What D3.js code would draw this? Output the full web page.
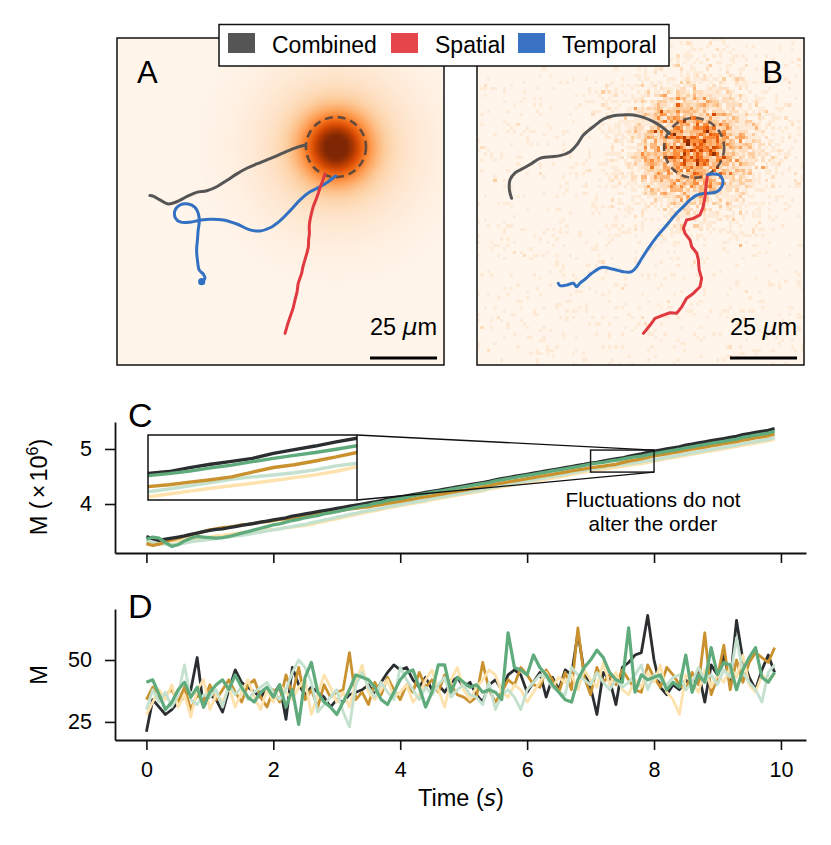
<!DOCTYPE html>
<html><head><meta charset="utf-8">
<script src="https://cdn.jsdelivr.net/npm/d3@7"></script>
<style>
body{margin:0;background:#fff}
svg{display:block}
text{font-family:"Liberation Sans",Arial,Helvetica,sans-serif;fill:#000}
</style>
</head><body>
<svg id="fig" width="831" height="845"></svg>
<script>
// ---------------- DATA ----------------
// Panels A/B: trajectories in micrometres (x right, y down) inside a 122 um field
const fieldSize = 122;
const scaleBarUm = 25;
const sourceA = [81.7, 40.7];   // centre of source in A (um)
const sourceB = [81.0, 41.0];   // centre of source in B (um)
const sourceRadius = 11.2;      // dashed circle radius (um)
const coreSigma = 8.0;          // narrow component of field A (um)
const haloSigma = 20.0;         // broad component of field A (um)
const sigmaB = 13.0;            // spread of noisy field B (um)

const aCombined = [[12.3,58.8],[13.5,59.0],[16.0,60.4],[19.1,61.9],[22.3,61.1],[26.0,59.2],[29.7,57.6],[33.5,57.0],[37.2,55.5],[40.9,53.2],[44.7,50.7],[48.4,48.6],[52.1,47.0],[55.9,45.5],[59.6,44.0],[63.3,42.3],[67.1,40.8],[70.4,39.9]];
const aSpatial = [[62.7,110.2],[63.6,107.0],[64.6,104.0],[65.7,100.8],[66.4,97.8],[67.2,94.6],[67.6,91.5],[68.9,87.8],[69.4,85.2],[70.1,82.8],[70.9,80.1],[71.4,77.9],[71.5,75.2],[71.8,72.9],[71.7,70.3],[72.0,67.9],[72.6,65.2],[73.2,62.9],[74.2,60.4],[75.1,57.9],[75.7,56.0],[76.4,54.2],[77.6,50.7]];
const aTemporal = [[31.6,90.9],[32.8,89.7],[32.2,88.1],[30.7,86.6],[30.0,82.8],[29.7,79.1],[30.0,75.4],[30.3,71.6],[30.7,68.5],[30.3,65.4],[29.1,63.2],[26.6,61.9],[23.5,62.3],[21.6,64.4],[21.9,67.3],[23.8,68.7],[27.2,68.7],[31.0,68.0],[34.7,67.6],[39.7,67.9],[44.7,69.4],[49.6,71.6],[53.4,72.0],[57.1,70.8],[60.8,68.2],[64.6,64.4],[68.3,60.4],[72.0,57.4],[75.7,55.5],[78.8,53.6],[81.6,51.5]];

const bCombined = [[12.9,59.8],[12.1,56.7],[12.3,53.0],[14.2,50.3],[17.3,48.6],[20.4,46.8],[23.5,44.9],[27.2,44.3],[31.0,43.9],[34.7,42.4],[37.2,39.9],[39.7,36.2],[43.4,33.1],[47.1,30.3],[50.9,29.0],[54.6,28.7],[58.3,28.7],[62.1,29.6],[65.8,31.2],[68.9,33.1],[71.8,35.6]];
const bSpatial = [[62.1,110.2],[64.6,107.1],[66.4,104.6],[69.5,103.4],[72.0,102.5],[74.5,102.7],[76.4,100.3],[78.2,97.1],[80.7,95.3],[83.2,92.8],[83.8,89.7],[82.9,86.6],[82.6,82.8],[82.0,80.3],[80.1,77.9],[79.5,75.4],[77.6,72.9],[77.0,71.0],[78.2,67.9],[80.7,67.3],[83.2,66.0],[84.4,62.9],[85.1,59.2],[85.4,55.5],[85.9,51.8]];
const bTemporal = [[30.3,91.5],[31.0,92.4],[33.5,92.2],[35.9,91.5],[37.2,92.8],[38.4,91.5],[40.3,90.0],[42.8,87.8],[46.5,85.6],[50.9,86.3],[54.6,87.2],[57.7,87.2],[59.6,85.3],[61.5,82.2],[63.9,78.5],[67.1,74.1],[70.8,69.8],[73.9,66.0],[77.0,62.9],[79.5,60.4],[82.0,58.6],[85.7,57.9],[89.4,57.4],[91.3,55.5],[91.7,53.0],[90.4,51.1],[88.2,50.7],[85.9,51.1]];

const legendLabels = ["Combined", "Spatial", "Temporal"];

// Panels C/D: time axis (s)
const time = [0,0.1,0.2,0.3,0.4,0.5,0.6,0.7,0.8,0.9,1,1.1,1.2,1.3,1.4,1.5,1.6,1.7,1.8,1.9,2,2.1,2.2,2.3,2.4,2.5,2.6,2.7,2.8,2.9,3,3.1,3.2,3.3,3.4,3.5,3.6,3.7,3.8,3.9,4,4.1,4.2,4.3,4.4,4.5,4.6,4.7,4.8,4.9,5,5.1,5.2,5.3,5.4,5.5,5.6,5.7,5.8,5.9,6,6.1,6.2,6.3,6.4,6.5,6.6,6.7,6.8,6.9,7,7.1,7.2,7.3,7.4,7.5,7.6,7.7,7.8,7.9,8,8.1,8.2,8.3,8.4,8.5,8.6,8.7,8.8,8.9,9,9.1,9.2,9.3,9.4,9.5,9.6,9.7,9.8,9.9];
const xTicks = [0,2,4,6,8,10];
const cTicks = [4,5];
const dTicks = [25,50];
const insetX = [7,8];
const insetY = [4.58,4.98];

// Panel C: cumulative M (x 10^6)
const cDark = [3.41,3.37,3.34,3.36,3.38,3.40,3.42,3.45,3.47,3.50,3.52,3.54,3.55,3.57,3.59,3.61,3.63,3.65,3.67,3.69,3.71,3.73,3.75,3.78,3.80,3.82,3.84,3.86,3.88,3.90,3.92,3.94,3.96,3.98,4.00,4.02,4.04,4.06,4.09,4.11,4.13,4.15,4.17,4.19,4.21,4.23,4.25,4.27,4.29,4.31,4.33,4.35,4.37,4.39,4.41,4.44,4.46,4.48,4.50,4.52,4.54,4.56,4.58,4.60,4.62,4.64,4.66,4.68,4.70,4.72,4.744,4.755,4.779,4.800,4.818,4.836,4.867,4.890,4.912,4.938,4.960,4.980,5.000,5.020,5.040,5.070,5.090,5.110,5.130,5.150,5.170,5.190,5.210,5.230,5.260,5.280,5.300,5.320,5.340,5.370];
const cGreen = [3.36,3.40,3.38,3.30,3.23,3.26,3.33,3.38,3.41,3.40,3.39,3.38,3.39,3.41,3.44,3.47,3.50,3.53,3.56,3.59,3.62,3.64,3.67,3.70,3.72,3.75,3.77,3.79,3.82,3.84,3.86,3.89,3.91,3.94,3.96,3.98,4.01,4.03,4.06,4.08,4.10,4.12,4.15,4.17,4.19,4.21,4.23,4.25,4.27,4.29,4.31,4.33,4.35,4.37,4.39,4.42,4.44,4.46,4.48,4.50,4.52,4.54,4.56,4.58,4.60,4.62,4.64,4.66,4.68,4.70,4.730,4.742,4.758,4.778,4.795,4.816,4.836,4.855,4.872,4.892,4.914,4.935,4.955,4.975,4.995,5.020,5.040,5.060,5.080,5.100,5.120,5.140,5.160,5.180,5.210,5.230,5.250,5.270,5.290,5.320];
const cGold = [3.28,3.25,3.27,3.31,3.35,3.38,3.41,3.44,3.47,3.50,3.53,3.55,3.57,3.58,3.60,3.62,3.63,3.65,3.67,3.68,3.70,3.72,3.73,3.75,3.77,3.78,3.80,3.82,3.84,3.86,3.87,3.89,3.91,3.92,3.94,3.95,3.97,3.99,4.01,4.03,4.05,4.07,4.09,4.11,4.13,4.15,4.17,4.19,4.21,4.23,4.25,4.27,4.29,4.31,4.33,4.36,4.38,4.40,4.42,4.44,4.46,4.48,4.50,4.52,4.54,4.56,4.58,4.60,4.62,4.64,4.662,4.674,4.690,4.705,4.722,4.752,4.780,4.797,4.820,4.845,4.873,4.893,4.913,4.933,4.953,4.975,4.995,5.015,5.035,5.055,5.075,5.095,5.115,5.135,5.160,5.180,5.200,5.220,5.240,5.270];
const cMint = [3.33,3.31,3.29,3.27,3.26,3.27,3.29,3.31,3.33,3.34,3.36,3.37,3.39,3.40,3.42,3.43,3.45,3.47,3.49,3.51,3.53,3.55,3.57,3.59,3.61,3.63,3.66,3.68,3.71,3.73,3.76,3.78,3.81,3.83,3.86,3.88,3.90,3.92,3.95,3.97,3.99,4.01,4.03,4.05,4.07,4.10,4.12,4.14,4.16,4.18,4.20,4.22,4.24,4.26,4.29,4.31,4.33,4.35,4.37,4.40,4.42,4.44,4.46,4.48,4.50,4.52,4.54,4.57,4.59,4.61,4.631,4.648,4.668,4.687,4.708,4.722,4.734,4.748,4.765,4.790,4.806,4.826,4.846,4.866,4.886,4.908,4.928,4.948,4.968,4.990,5.010,5.030,5.050,5.070,5.095,5.115,5.135,5.155,5.175,5.200];
const cCream = [3.30,3.33,3.36,3.35,3.33,3.33,3.34,3.35,3.36,3.38,3.40,3.42,3.43,3.45,3.46,3.48,3.49,3.50,3.52,3.53,3.54,3.55,3.57,3.58,3.60,3.61,3.63,3.66,3.68,3.71,3.73,3.76,3.78,3.81,3.83,3.86,3.88,3.90,3.93,3.95,3.97,3.99,4.01,4.03,4.05,4.08,4.10,4.12,4.14,4.16,4.18,4.20,4.22,4.24,4.27,4.29,4.31,4.33,4.35,4.37,4.39,4.41,4.43,4.45,4.47,4.49,4.51,4.54,4.56,4.58,4.600,4.617,4.635,4.652,4.668,4.683,4.700,4.718,4.735,4.757,4.785,4.803,4.823,4.843,4.863,4.885,4.905,4.925,4.945,4.965,4.985,5.005,5.025,5.045,5.070,5.090,5.110,5.130,5.150,5.175];

// Panel D: instantaneous M
const dDark = [21,34,31,28,30,33,35,38,51,31,36,34,29,38,46,41,39,37,35,38,36,40,26,47,40,36,39,37,35,31,34,33,36,37,38,40,36,41,45,48,46,47,42,39,43,38,40,37,41,43,39,41,36,33,40,42,38,44,46,44,37,41,45,35,43,38,46,44,61,45,39,28,45,42,32,47,49,52,53,68,50,39,36,40,38,42,39,45,33,48,44,52,41,66,50,43,38,46,52,45];
const dGreen = [41,42,36,30,33,38,41,35,39,31,37,40,42,38,44,39,35,33,37,39,35,40,31,38,24,43,49,37,33,31,28,33,38,44,43,42,39,34,32,37,42,45,46,39,31,37,48,48,37,43,41,39,40,37,38,37,34,61,47,46,44,52,47,44,40,37,34,33,42,47,50,54,51,45,42,41,63,37,44,42,43,44,38,41,39,52,37,44,41,55,44,49,48,38,46,51,55,43,41,45];
const dGold = [34,39,34,36,38,33,39,30,36,33,40,34,38,42,37,33,40,42,35,31,38,33,44,36,47,34,38,31,40,35,37,38,53,34,37,32,41,36,43,38,34,40,37,45,39,42,37,44,40,36,35,33,35,49,38,33,37,42,40,47,44,40,39,46,42,37,45,38,63,43,36,47,41,44,40,46,42,38,37,48,43,39,47,44,40,38,45,40,61,36,43,56,38,50,41,49,53,51,49,55];
const dMint = [30,38,33,37,31,36,48,34,32,36,35,38,31,40,36,39,34,37,39,41,37,34,38,45,50,47,41,29,32,35,38,29,23,40,45,39,35,41,37,34,47,42,38,34,39,36,40,43,35,38,40,36,35,32,41,30,36,38,35,30,38,41,44,43,39,37,36,47,44,42,40,45,41,38,42,39,41,44,48,38,44,42,40,43,44,38,41,47,42,44,40,46,43,59,45,41,38,33,45,48];
const dCream = [28,33,38,34,40,31,36,27,38,42,30,36,33,39,31,37,42,35,30,38,33,40,37,34,39,42,28,36,44,39,33,37,31,41,48,37,34,38,42,35,37,40,33,36,42,46,38,31,42,47,38,34,39,42,46,44,37,35,40,38,33,37,41,45,39,43,41,44,38,46,42,39,49,40,45,38,36,42,39,45,41,48,37,34,28,44,41,37,46,39,44,41,47,43,52,40,37,44,42,44];

const seriesColors = {dark:"#2b2e31", green:"#5fab7c", gold:"#c9922f", mint:"#c4e0ce", cream:"#fde2ad"};
const trajColors = {combined:"#555555", spatial:"#e0393f", temporal:"#3270c2"};
const legendColors = ["#555555","#e5464b","#3a73c3"];

// ---------------- DRAW ----------------
const svg = d3.select("#fig");
const TICK = 21.5, LABEL = 23.5, NOTE = 20.7;

// ---------- Panels A & B ----------
function heatURL(n, valueFn){
  const c = document.createElement("canvas");
  c.width = n; c.height = n;
  const ctx = c.getContext("2d");
  const img = ctx.createImageData(n, n);
  for (let j=0;j<n;j++) for (let i=0;i<n;i++){
    const v = Math.max(0, Math.min(1, valueFn((i+0.5)/n*fieldSize, (j+0.5)/n*fieldSize)));
    const col = d3.rgb(d3.interpolateOranges(v));
    const k = (j*n+i)*4;
    img.data[k]=col.r; img.data[k+1]=col.g; img.data[k+2]=col.b; img.data[k+3]=255;
  }
  ctx.putImageData(img,0,0);
  return c.toDataURL();
}
// deterministic texture generator (photon-count look) for the noisy field
function mulberry32(a){return function(){a|=0;a=a+0x6D2B79F5|0;let t=Math.imul(a^a>>>15,1|a);t=t+Math.imul(t^t>>>7,61|t)^t;return((t^t>>>14)>>>0)/4294967296;}}
const rng = mulberry32(2024);
function poisson(lam){ const L=Math.exp(-lam); let k=0, p=1; do { k++; p*=rng(); } while(p>L); return k-1; }

function panel(left, top, size, src, noisy, comb, spat, temp, label, labelRight){
  const x = d3.scaleLinear().domain([0,fieldSize]).range([left,left+size]);
  const y = d3.scaleLinear().domain([0,fieldSize]).range([top,top+size]);
  const g = svg.append("g");
  let url;
  if(!noisy){
    url = heatURL(160,(ux,uy)=>{
      const r2=(ux-src[0])**2+(uy-src[1])**2;
      return 0.8*Math.exp(-r2/(2*coreSigma*coreSigma)) + 0.3*Math.exp(-r2/(2*haloSigma*haloSigma));
    });
  } else {
    url = heatURL(100,(ux,uy)=>{
      const r2=(ux-src[0])**2+(uy-src[1])**2;
      const lam = 6*Math.exp(-r2/(2*sigmaB*sigmaB)) + 0.1;
      return poisson(lam)/12;
    });
  }
  g.append("image").attr("href",url).attr("x",left).attr("y",top)
    .attr("width",size).attr("height",size).attr("preserveAspectRatio","none")
    .style("image-rendering", noisy ? "pixelated" : "auto");
  g.append("rect").attr("x",left).attr("y",top).attr("width",size).attr("height",size)
    .attr("fill","none").attr("stroke","#111").attr("stroke-width",1.5);
  g.append("circle").attr("cx",x(src[0])).attr("cy",y(src[1])).attr("r",x(sourceRadius)-x(0))
    .attr("fill","none").attr("stroke","#4a4240").attr("stroke-opacity",0.85)
    .attr("stroke-width",2.6).attr("stroke-dasharray","8,5");
  const smoothLine = d3.line().x(d=>x(d[0])).y(d=>y(d[1])).curve(d3.curveCatmullRom);
  const rough = d3.line().x(d=>x(d[0])).y(d=>y(d[1]));
  g.append("path").attr("d",smoothLine(comb)).attr("fill","none").attr("stroke",trajColors.combined).attr("stroke-width",3).attr("stroke-linecap","round").attr("stroke-linejoin","round");
  g.append("path").attr("d",smoothLine(temp)).attr("fill","none").attr("stroke",trajColors.temporal).attr("stroke-width",3).attr("stroke-linecap","round").attr("stroke-linejoin","round");
  g.append("path").attr("d",rough(spat)).attr("fill","none").attr("stroke",trajColors.spatial).attr("stroke-width",3).attr("stroke-linecap","round").attr("stroke-linejoin","round");
  if(!noisy){
    g.append("circle").attr("cx",x(temp[0][0])).attr("cy",y(temp[0][1])).attr("r",3.6).attr("fill",trajColors.temporal);
  }
  // scale bar
  const barEnd = fieldSize-2.6, barStart = barEnd-scaleBarUm;
  g.append("line").attr("x1",x(barStart)).attr("x2",x(barEnd)).attr("y1",y(119.4)).attr("y2",y(119.4))
    .attr("stroke","#000").attr("stroke-width",3);
  const st = g.append("text").attr("x",(x(barStart)+x(barEnd))/2).attr("y",y(110.9)).attr("text-anchor","middle").style("font-size","23.5px");
  st.append("tspan").text("25 ");
  st.append("tspan").attr("font-family","DejaVu Sans").style("font-style","italic").text("μ");
  st.append("tspan").text("m");
  g.append("text").attr("x", labelRight ? left+size-21 : left+20).attr("y",top+45)
    .attr("text-anchor", labelRight ? "end":"start").style("font-size","31px").text(label);
}
panel(117,38,327,sourceA,false,aCombined,aSpatial,aTemporal,"A",false);
panel(477,38,327,sourceB,true,bCombined,bSpatial,bTemporal,"B",true);

// legend
const lg = svg.append("g");
lg.append("rect").attr("x",219).attr("y",24.5).attr("width",450).attr("height",41.5)
  .attr("fill","#fff").attr("stroke","#111").attr("stroke-width",1.5);
const legX = [228, 391, 518];
legendLabels.forEach((l,i)=>{
  lg.append("rect").attr("x",legX[i]).attr("y",33).attr("width",27).attr("height",20).attr("fill",legendColors[i]);
  lg.append("text").attr("x",legX[i]+44).attr("y",53).style("font-size","23px").text(l);
});

// ---------- Panels C & D ----------
const xS = d3.scaleLinear().domain([-0.495,10.395]).range([115,806]);
const yC = d3.scaleLinear().domain([3.11,5.49]).range([553,422]);
const yD = d3.scaleLinear().domain([17.7,70.6]).range([740,609]);

function styleAxis(g){
  g.selectAll("path.domain").attr("stroke","#111").attr("stroke-width",1.8);
  g.selectAll(".tick line").attr("stroke","#111").attr("stroke-width",1.6);
  g.selectAll(".tick text").attr("fill","#000").style("font-size",TICK+"px")
    .attr("font-family","'Liberation Sans',Arial,sans-serif");
}
function drawAxes(yScale, ticks, bottomY, withLabels){
  const gx = svg.append("g").attr("transform",`translate(0,${bottomY})`)
    .call(d3.axisBottom(xS).tickValues(xTicks).tickSize(10).tickPadding(12).tickSizeOuter(0)
      .tickFormat(withLabels ? d3.format("d") : ""));
  styleAxis(gx);
  const gy = svg.append("g").attr("transform","translate(115,0)")
    .call(d3.axisLeft(yScale).tickValues(ticks).tickSize(10).tickPadding(13).tickSizeOuter(0).tickFormat(d3.format("d")));
  styleAxis(gy);
}

const cSeries = [[cCream,"cream"],[cMint,"mint"],[cGold,"gold"],[cDark,"dark"],[cGreen,"green"]];
const dSeries = [[dDark,"dark"],[dGold,"gold"],[dCream,"cream"],[dMint,"mint"],[dGreen,"green"]];

const lineC = vals => d3.line().x((d,i)=>xS(time[i])).y(d=>yC(d))(vals);
cSeries.forEach(([v,k])=>{
  svg.append("path").attr("d",lineC(v)).attr("fill","none").attr("stroke",seriesColors[k])
    .attr("stroke-width",3.3).attr("stroke-linejoin","round");
});
drawAxes(yC, cTicks, 553, false);

// zoom rectangle and inset
const ix0 = 148, ix1 = 357, iy0 = 435, iy1 = 500;
const rx0 = xS(insetX[0]), rx1 = xS(insetX[1]), ry0 = yC(insetY[1]), ry1 = yC(insetY[0]);
svg.append("line").attr("x1",ix1).attr("y1",iy0).attr("x2",rx1).attr("y2",ry0).attr("stroke","#111").attr("stroke-width",1.3);
svg.append("line").attr("x1",ix1).attr("y1",iy1).attr("x2",rx1).attr("y2",ry1).attr("stroke","#111").attr("stroke-width",1.3);
svg.append("rect").attr("x",rx0).attr("y",ry0).attr("width",rx1-rx0).attr("height",ry1-ry0)
  .attr("fill","none").attr("stroke","#111").attr("stroke-width",1.4);

const xi = d3.scaleLinear().domain(insetX).range([ix0,ix1]);
const yi = d3.scaleLinear().domain(insetY).range([iy1,iy0]);
svg.append("defs").append("clipPath").attr("id","insetClip").append("rect")
  .attr("x",ix0).attr("y",iy0).attr("width",ix1-ix0).attr("height",iy1-iy0);
svg.append("rect").attr("x",ix0).attr("y",iy0).attr("width",ix1-ix0).attr("height",iy1-iy0).attr("fill","#fff");
const ig = svg.append("g").attr("clip-path","url(#insetClip)");
cSeries.forEach(([v,k])=>{
  ig.append("path").attr("d",d3.line().x((d,i)=>xi(time[i])).y(d=>yi(d))(v))
    .attr("fill","none").attr("stroke",seriesColors[k]).attr("stroke-width",3.4).attr("stroke-linejoin","round");
});
svg.append("rect").attr("x",ix0).attr("y",iy0).attr("width",ix1-ix0).attr("height",iy1-iy0)
  .attr("fill","none").attr("stroke","#111").attr("stroke-width",1.5);

svg.append("text").attr("x",653).attr("y",507).attr("text-anchor","middle").style("font-size",NOTE+"px").text("Fluctuations do not");
svg.append("text").attr("x",653).attr("y",531).attr("text-anchor","middle").style("font-size",NOTE+"px").text("alter the order");

// Panel D
const lineD = vals => d3.line().x((d,i)=>xS(time[i])).y(d=>yD(d))(vals);
dSeries.forEach(([v,k])=>{
  svg.append("path").attr("d",lineD(v)).attr("fill","none").attr("stroke",seriesColors[k])
    .attr("stroke-width",k==="green"?3.2:2.8).attr("stroke-linejoin","round");
});
drawAxes(yD, dTicks, 740, true);

// panel letters
svg.append("text").attr("x",128).attr("y",427).style("font-size","34px").text("C");
svg.append("text").attr("x",128).attr("y",618).style("font-size","34px").text("D");

// axis labels
const yl = svg.append("text").attr("transform","translate(47,487) rotate(-90)").attr("text-anchor","middle").style("font-size",LABEL+"px");
yl.append("tspan").text("M (");
yl.append("tspan").attr("dx","3").text("×");
yl.append("tspan").attr("dx","3").text("10");
yl.append("tspan").attr("dy","-9").style("font-size","16px").text("6");
yl.append("tspan").attr("dy","9").text(")");
svg.append("text").attr("transform","translate(47,675) rotate(-90)").attr("text-anchor","middle").style("font-size",LABEL+"px").text("M");

const xl = svg.append("text").attr("x",461).attr("y",806).attr("text-anchor","middle").style("font-size",LABEL+"px");
xl.append("tspan").text("Time (");
xl.append("tspan").attr("font-family","DejaVu Sans").style("font-style","italic").text("s");
xl.append("tspan").text(")");
</script>
</body></html>
